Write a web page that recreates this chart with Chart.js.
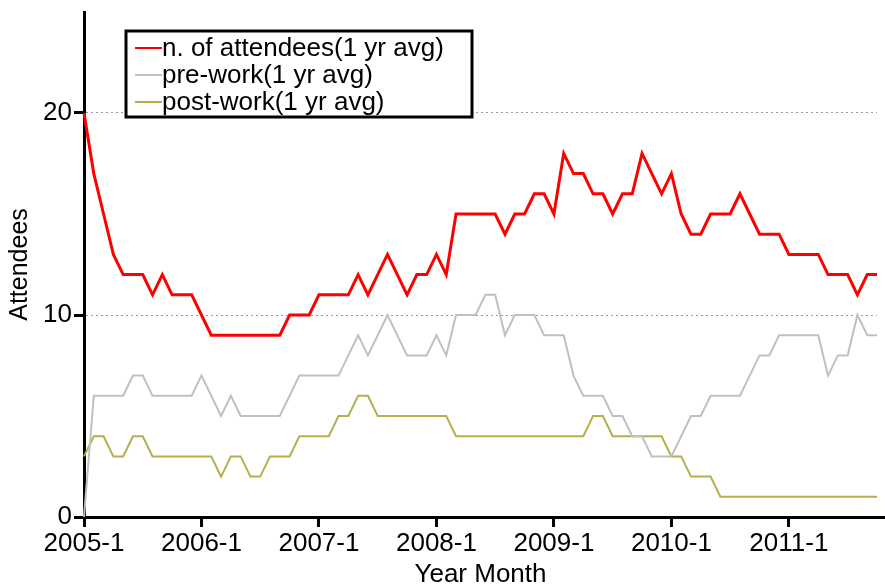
<!DOCTYPE html>
<html>
<head>
<meta charset="utf-8">
<script src="https://cdn.jsdelivr.net/npm/chart.js@4/dist/chart.umd.min.js"></script>
<style>
  body { margin: 0; background: #fff; }
  canvas { display: block; }
</style>
</head>
<body>
<canvas id="attChart" width="885" height="588"></canvas>
<script>
// ====================== DATA ======================
// monthly categories 2005-1 .. 2011-10
const startYear = 2005;
const monthCount = 82;
const monthLabels = [];
for (let i = 0; i < monthCount; i++) {
  monthLabels.push((startYear + Math.floor(i / 12)) + "-" + ((i % 12) + 1));
}

const seriesNames = ["n. of attendees(1 yr avg)", "pre-work(1 yr avg)", "post-work(1 yr avg)"];

const attendees = [20,17,15,13,12,12,12,11,12,11,11,11,
                   10,9,9,9,9,9,9,9,9,10,10,10,
                   11,11,11,11,12,11,12,13,12,11,12,12,
                   13,12,15,15,15,15,15,14,15,15,16,16,
                   15,18,17,17,16,16,15,16,16,18,17,16,
                   17,15,14,14,15,15,15,16,15,14,14,14,
                   13,13,13,13,12,12,12,11,12,12];

const preWork = [0,6,6,6,6,7,7,6,6,6,6,6,
                 7,6,5,6,5,5,5,5,5,6,7,7,
                 7,7,7,8,9,8,9,10,9,8,8,8,
                 9,8,10,10,10,11,11,9,10,10,10,9,
                 9,9,7,6,6,6,5,5,4,4,3,3,
                 3,4,5,5,6,6,6,6,7,8,8,9,
                 9,9,9,9,7,8,8,10,9,9];

const postWork = [3,4,4,3,3,4,4,3,3,3,3,3,
                  3,3,2,3,3,2,2,3,3,3,4,4,
                  4,4,5,5,6,6,5,5,5,5,5,5,
                  5,5,4,4,4,4,4,4,4,4,4,4,
                  4,4,4,4,5,5,4,4,4,4,4,4,
                  3,3,2,2,2,1,1,1,1,1,1,1,
                  1,1,1,1,1,1,1,1,1,1];

const yTicks = [0, 10, 20];

// ====================== STYLE ======================
const FONT = "'Liberation Sans', Arial, Helvetica, sans-serif";
const colors = ["#ff0000", "#c0c0c0", "#b5b04c"];
const widths = [3, 2, 2];

// ====================== BOXED LEGEND ======================
const boxLegend = {
  id: "boxLegend",
  afterDraw(chart) {
    const ctx = chart.ctx;
    const area = chart.chartArea;
    ctx.save();
    // x axis line runs on to the right edge
    ctx.strokeStyle = "#000";
    ctx.lineWidth = 3;
    ctx.beginPath();
    ctx.moveTo(area.right - 1, area.bottom + 0.5);
    ctx.lineTo(chart.width, area.bottom + 0.5);
    ctx.stroke();

    const x = 126, y = 31, w = 346, h = 86;
    ctx.fillStyle = "#fff";
    ctx.fillRect(x, y, w, h);
    ctx.strokeRect(x, y, w, h);
    ctx.font = "26px " + FONT;
    ctx.textBaseline = "middle";
    chart.data.datasets.forEach((ds, i) => {
      let ry = 48 + i * 27;
      ctx.strokeStyle = ds.borderColor;
      ctx.lineWidth = 2;
      ctx.beginPath();
      ctx.moveTo(135, ry);
      ctx.lineTo(162, ry);
      ctx.stroke();
      ctx.fillStyle = "#000";
      ctx.fillText(ds.label, 162, ry + 1);
    });
    ctx.restore();
  }
};

// ====================== CHART ======================
const datasets = [attendees, preWork, postWork].map((arr, i) => ({
  label: seriesNames[i],
  data: arr,
  borderColor: colors[i],
  borderWidth: widths[i],
  pointRadius: 0,
  tension: 0,
  fill: false
}));

new Chart(document.getElementById("attChart"), {
  type: "line",
  data: { labels: monthLabels, datasets: datasets },
  options: {
    responsive: false,
    animation: false,
    layout: { padding: { top: 12, right: 8, left: 0, bottom: 0 } },
    plugins: {
      legend: { display: false },
      tooltip: { enabled: false }
    },
    scales: {
      x: {
        type: "category",
        offset: false,
        afterBuildTicks: (scale) => {
          scale.ticks = scale.ticks.filter(t => t.value % 12 === 0);
        },
        afterFit: (scale) => {
          scale.height = 71;
          scale.paddingLeft = 0;
          scale.paddingRight = 0;
        },
        ticks: {
          autoSkip: false,
          maxRotation: 0,
          padding: 1,
          color: "#000",
          font: { family: FONT, size: 26 }
        },
        grid: {
          drawOnChartArea: false,
          tickLength: 10,
          tickColor: "#000",
          tickWidth: 3
        },
        border: { color: "#000", width: 3 },
        title: {
          display: true,
          text: "Year Month",
          color: "#000",
          font: { family: FONT, size: 26, lineHeight: 1 },
          padding: { top: 0, bottom: 0 }
        }
      },
      y: {
        min: 0,
        max: 25,
        afterBuildTicks: (scale) => {
          scale.ticks = yTicks.map(v => ({ value: v }));
        },
        afterFit: (scale) => {
          scale.width = 84;
          scale.paddingTop = 0;
          scale.paddingBottom = 0;
        },
        ticks: {
          padding: 2,
          color: "#000",
          font: { family: FONT, size: 26 }
        },
        grid: {
          color: (c) => (c.tick && c.tick.value > 0) ? "#999" : "rgba(0,0,0,0)",
          lineWidth: 1,
          tickBorderDash: [],
          tickLength: 10,
          tickColor: "#000",
          tickWidth: 3
        },
        border: { color: "#000", width: 3, dash: [2, 3] },
        title: {
          display: true,
          text: "Attendees",
          color: "#000",
          font: { family: FONT, size: 25, lineHeight: 1 },
          padding: { top: 8, bottom: 0 }
        }
      }
    }
  },
  plugins: [boxLegend]
});
</script>
</body>
</html>
